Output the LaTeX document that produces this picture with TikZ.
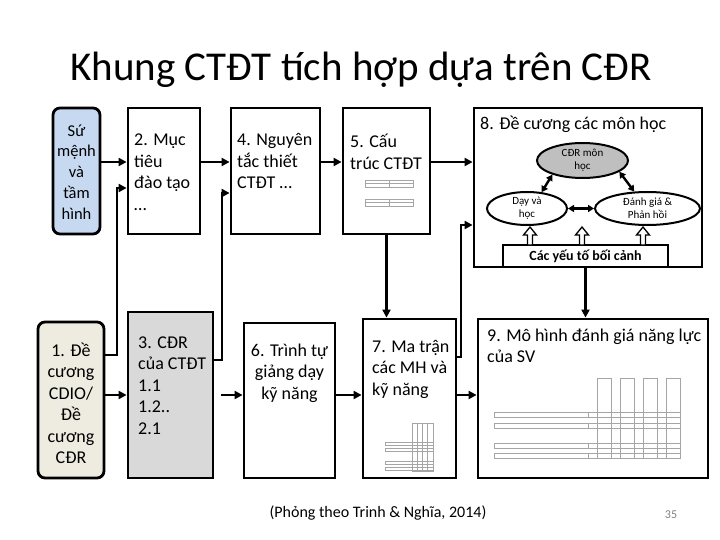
\documentclass[tikz,border=0pt]{standalone}
\usepackage{fontspec}
\setmainfont{Carlito}
\usetikzlibrary{arrows.meta, shapes.geometric, positioning}

\definecolor{smblue}{RGB}{198,217,241}
\definecolor{cdiobeige}{RGB}{238,236,225}
\definecolor{cdrgray}{RGB}{217,217,217}
\definecolor{ellgray}{RGB}{191,191,191}
\definecolor{gridgray}{RGB}{165,165,165}

\begin{document}
\begin{tikzpicture}[
        x=1pt, y=-1pt,
        >={Triangle[length=8pt,width=8pt]},
        font=\fontsize{18}{21.5}\selectfont,
        box/.style={rectangle, draw=black, line width=2.8pt, fill=white, inner sep=0pt},
        rbox/.style={box, rounded corners=7pt},
        txt/.style={inner sep=0pt, align=left, anchor=base west},
        ctxt/.style={inner sep=0pt, align=center, anchor=base},
        elli/.style={ellipse, draw=black, line width=2pt, inner sep=0pt, align=center,
                     font=\fontsize{11}{13}\selectfont},
        arr/.style={->, draw=black, line width=2.8pt},
        dbl/.style={{Triangle[length=6pt,width=7pt]}-{Triangle[length=6pt,width=7pt]},
                    draw=black, line width=2.4pt},
        hollow/.style={draw=black, line width=1.3pt, fill=white, line join=miter},
        tbl/.style={draw=gridgray, line width=0.8pt}
    ]
    \useasboundingbox (0,0) rectangle (720,540);

    % Title
    \node[font=\fontsize{41}{45}\selectfont, anchor=base] (title) at (361,81) {Khung CTĐT tích hợp dựa trên CĐR};

    % Upper row (text nodes are placed by the baseline of their last line)
    \node[rbox, fill=smblue, minimum width=47pt, minimum height=126pt] (sumenh) at (76.5,171) {};
    \node[box, minimum width=72pt, minimum height=126pt] (muctieu)   at (164,171) {};
    \node[box, minimum width=89pt, minimum height=126pt] (nguyentac) at (275.5,171) {};
    \node[box, minimum width=87pt, minimum height=126pt] (cautruc)   at (386.5,171) {};
    \node[box, minimum width=228pt, minimum height=159pt] (decuong)  at (588,187.5) {};

    \node[ctxt, font=\fontsize{16.5}{20.7}\selectfont] (sumenh-t) at (76.5,219) {Sứ\\mệnh\\và\\tầm\\hình};
    \node[txt]  (muctieu-t)   at (134,210.5) {2. Mục\\tiêu\\đào tạo\\…};
    \node[txt]  (nguyentac-t) at (237,189)  {4. Nguyên\\tắc thiết\\CTĐT …};
    \node[txt]  (cautruc-t)   at (350,169.5) {5. Cấu\\trúc CTĐT};
    \node[txt]  (decuong-t)   at (480,130)  {8. Đề cương các môn học};

    % Lower row
    \node[rbox, fill=cdiobeige, minimum width=66pt, minimum height=156pt] (cdio) at (71,400) {};
    \node[box, fill=cdrgray, minimum width=85pt, minimum height=166pt] (cdrct)  at (170.5,395) {};
    \node[box, minimum width=91pt, minimum height=155pt]  (trinhtu) at (289.5,400.5) {};
    \node[box, minimum width=93pt, minimum height=159pt]  (matran)  at (409.5,398.5) {};
    \node[box, minimum width=230pt, minimum height=159pt] (mohinh)  at (593,398.5) {};

    \node[ctxt] (cdio-t)    at (71,463.5) {1. Đề\\cương\\CDIO/\\Đề\\cương\\CĐR};
    \node[txt]  (cdrct-t)   at (138,434)  {3. CĐR\\của CTĐT\\1.1\\1.2..\\2.1};
    \node[ctxt] (trinhtu-t) at (289.5,399) {6. Trình tự\\giảng dạy\\kỹ năng};
    \node[txt]  (matran-t)  at (372,395)  {7. Ma trận\\các MH và\\kỹ năng};
    \node[txt]  (mohinh-t)  at (487,362.5) {9. Mô hình đánh giá năng lực\\của SV};

    % Small tables
    \foreach \ty in {180,199}
      \draw[tbl] (365,\ty) rectangle (413,\ty+7.5) (365,\ty+3.75) -- (413,\ty+3.75) (389,\ty) -- (389,\ty+7.5);
    \foreach \tx in {412,417.25,422.5,427.75}
      \draw[tbl] (\tx,423) rectangle (\tx+5.25,471);
    \foreach \ty in {442,448,461,467}
      \draw[tbl] (385,\ty) rectangle (433,\ty+3.5);
    \foreach \tx in {597,620,643,666}
      \draw[tbl] (\tx,378) rectangle (\tx+14,458);
    \foreach \ty in {412,423,443,453}
      \draw[tbl] (494,\ty) rectangle (680,\ty+5.5) (588,\ty) -- (588,\ty+5.5);

    % Inside box 8
    \node[elli, fill=ellgray, minimum width=91pt, minimum height=35pt] (cdrmon) at (582.5,160.5) {CĐR môn\\học};
    \node[elli, fill=white, minimum width=80pt, minimum height=33pt]  (dayhoc)  at (527,208.5) {Dạy và\\học};
    \node[elli, fill=white, minimum width=105pt, minimum height=33pt] (danhgia) at (647.5,208.5) {Đánh giá \&\\Phản hồi};
    \node[box, line width=2.4pt, minimum width=165pt, minimum height=22pt,
          font=\fontsize{14}{16}\selectfont\bfseries] (boicanh) at (585.5,256) {Các yếu tố bối cảnh};

    \draw[dbl] (cdrmon.205) -- (dayhoc.48);
    \draw[dbl] (cdrmon.-17) -- (danhgia.128);
    \draw[dbl] (dayhoc.east) -- (danhgia.west);
    \foreach \hx in {530,582,643}
      \draw[hollow] (\hx-2.5,245) -- (\hx-2.5,235) -- (\hx-6.5,235) -- (\hx,227)
                    -- (\hx+6.5,235) -- (\hx+2.5,235) -- (\hx+2.5,245) -- cycle;

    % Main flow
    \coordinate (upper) at (0,162);
    \coordinate (lower) at (0,395);
    \draw[arr] (sumenh.east |- upper)    -- (muctieu.west |- upper);
    \draw[arr] (muctieu.east |- upper)   -- (nguyentac.west |- upper);
    \draw[arr] (nguyentac.east |- upper) -- (cautruc.west |- upper);
    \draw[arr] (cautruc.east |- upper)   -- (decuong.west |- upper);
    \draw[arr] (cdio.east |- lower)      -- (cdrct.west |- lower);
    \draw[arr, shorten <=7pt] (cdrct.east |- lower) -- (trinhtu.west |- lower);
    \draw[arr] (trinhtu.east |- lower)   -- (matran.west |- lower);
    \draw[arr] (matran.east |- lower)    -- (mohinh.west |- lower);

    % Cross links
    \coordinate (k1) at (117,355);  \coordinate (k1t) at (117,188);
    \coordinate (k2) at (222,360);  \coordinate (k2t) at (222,193);
    \coordinate (k3) at (461,357);  \coordinate (k3t) at (461,225);
    \draw[arr] (cdio.east |- k1)   -- (k1) -- (k1t) -- (muctieu.west |- k1t);
    \draw[arr] (cdrct.east |- k2)  -- (k2) -- (k2t) -- (nguyentac.west |- k2t);
    \draw[arr] (matran.east |- k3) -- (k3) -- (k3t) -- (decuong.west |- k3t);
    \draw[arr] (cautruc.south) -- (cautruc.south |- matran.north);
    \draw[arr] (boicanh.south) -- (boicanh.south |- mohinh.north);

    % Source and page number
    \node[font=\fontsize{16}{18}\selectfont, anchor=base] (nguon) at (378,517) {(Phỏng theo Trinh \& Nghĩa, 2014)};
    \node[font=\fontsize{12}{14}\selectfont, text=gray, anchor=base] (trang) at (671,518) {35};
\end{tikzpicture}
\end{document}
